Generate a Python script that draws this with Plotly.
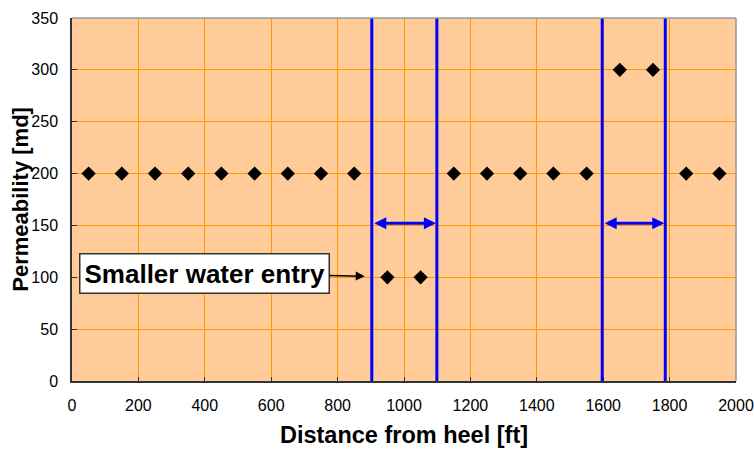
import plotly.graph_objects as go

distance = [50, 150, 250, 350, 450, 550, 650, 750, 850, 950, 1050, 1150, 1250, 1350, 1450, 1550, 1650, 1750, 1850, 1950]
permeability = [200, 200, 200, 200, 200, 200, 200, 200, 200, 100, 100, 200, 200, 200, 200, 200, 300, 300, 200, 200]
zone_bounds = [(903, 1099), (1597, 1787)]
arrow_level = 152
note_text = "Smaller water entry"
note_target = (882, 101)
note_pos = (400, 104)
x_title = "Distance from heel [ft]"
y_title = "Permeability [md]"

fig = go.Figure()
fig.add_trace(go.Scatter(x=distance, y=permeability, mode="markers",
                         marker=dict(symbol="diamond", size=11, color="black"),
                         showlegend=False, hoverinfo="skip"))

for a, b in zone_bounds:
    for xv in (a, b):
        fig.add_shape(type="line", x0=xv, x1=xv, y0=0, y1=350, xref="x", yref="y",
                      line=dict(color="#0000FF", width=3))
    fig.add_annotation(x=b, y=arrow_level, ax=a, ay=arrow_level, xref="x", yref="y",
                       axref="x", ayref="y", text="", showarrow=True,
                       arrowhead=2, arrowside="end+start", arrowsize=0.8,
                       arrowwidth=3, arrowcolor="#0000FF", standoff=1, startstandoff=1)

fig.add_annotation(x=note_target[0], y=note_target[1], ax=note_pos[0], ay=note_pos[1],
                   xref="x", yref="y", axref="x", ayref="y",
                   text="<b>" + note_text + "</b>", showarrow=True, arrowhead=2,
                   arrowsize=1.3, arrowwidth=1.4, arrowcolor="black",
                   font=dict(family="Liberation Sans, Arial", size=26, color="black"),
                   bgcolor="white", bordercolor="#333333", borderwidth=1.5, borderpad=4)

# y axis title as rotated annotation for precise placement
fig.add_annotation(x=-0.078, y=0.5, xref="paper", yref="paper", showarrow=False,
                   text="<b>" + y_title + "</b>", textangle=-90,
                   xanchor="center", yanchor="middle",
                   font=dict(family="Liberation Sans, Arial", size=22, color="black"))

fig.update_layout(
    width=754, height=450,
    margin=dict(l=72, r=18, t=18, b=69),
    paper_bgcolor="white", plot_bgcolor="#FFCC99",
    font=dict(family="Liberation Sans, Arial", size=16, color="black"),
    xaxis=dict(range=[0, 2000], tickvals=list(range(0, 2001, 200)),
               showgrid=True, gridcolor="#FF9900", gridwidth=1,
               showline=True, linecolor="#333333", linewidth=1.5, mirror=False,
               ticks="inside", ticklen=4, tickcolor="#333333",
               ticklabelstandoff=9, zeroline=False, automargin=False,
               title=dict(text="<b>" + x_title + "</b>", font=dict(size=23.5), standoff=14)),
    yaxis=dict(range=[0, 350], tickvals=list(range(0, 351, 50)),
               showgrid=True, gridcolor="#FF9900", gridwidth=1,
               showline=True, linecolor="#333333", linewidth=1.5,
               ticks="inside", ticklen=5, tickcolor="#333333",
               ticklabelstandoff=9, zeroline=False, automargin=False),
)
fig.add_shape(type="line", xref="paper", yref="paper", x0=0, x1=1, y0=1, y1=1,
              line=dict(color="#999999", width=1.5))
fig.add_shape(type="line", xref="paper", yref="paper", x0=1, x1=1, y0=0, y1=1,
              line=dict(color="#999999", width=1.5))

fig.write_html("out.html", config={"displayModeBar": False},
               post_script="document.body.style.margin='0';document.body.style.overflow='hidden';")
